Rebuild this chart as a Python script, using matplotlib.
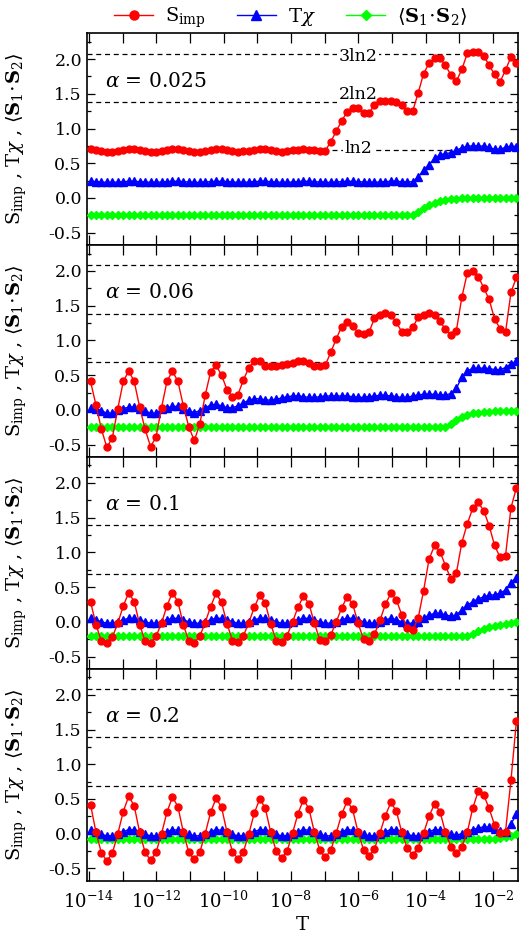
import numpy as np
import matplotlib
matplotlib.use('Agg')
import matplotlib.pyplot as plt
from matplotlib.ticker import FixedLocator, FuncFormatter, MultipleLocator, NullLocator

plt.rcParams['font.family'] = 'DejaVu Serif'
plt.rcParams['mathtext.fontset'] = 'dejavuserif'
plt.rcParams['axes.unicode_minus'] = False

# NRG temperature grid (uniform in log T)
T = np.logspace(-13.95, -1.30, 79)

alphas = ['0.025', '0.06', '0.1', '0.2']

# ---- alpha = 0.025 ----
s_imp_1 = [
    0.70, 0.69, 0.67, 0.66, 0.665, 0.68, 0.695, 0.70,
    0.70, 0.69, 0.67, 0.66, 0.665, 0.68, 0.695, 0.70,
    0.70, 0.69, 0.67, 0.66, 0.665, 0.68, 0.695, 0.70,
    0.70, 0.69, 0.675, 0.665, 0.67, 0.68, 0.695, 0.70,
    0.70, 0.69, 0.675, 0.665, 0.67, 0.685, 0.695, 0.70,
    0.695, 0.685, 0.675, 0.68,
    0.81, 0.96, 1.11, 1.24, 1.30, 1.30, 1.23, 1.22, 1.34, 1.39,
    1.40, 1.40, 1.38, 1.34, 1.25, 1.25, 1.51, 1.79, 1.94, 2.01,
    2.01, 1.91, 1.77, 1.68, 1.85, 2.08, 2.10, 2.10, 2.05, 1.91,
    1.78, 1.67, 1.84, 2.03, 1.95]
tchi_1 = [
    0.24, 0.235, 0.23, 0.225, 0.225, 0.23, 0.235, 0.24,
    0.24, 0.235, 0.23, 0.225, 0.225, 0.23, 0.235, 0.24,
    0.24, 0.235, 0.23, 0.225, 0.225, 0.23, 0.235, 0.24,
    0.24, 0.235, 0.23, 0.225, 0.225, 0.23, 0.235, 0.24,
    0.24, 0.235, 0.23, 0.225, 0.225, 0.23, 0.235, 0.24,
    0.24, 0.235, 0.23, 0.225, 0.225, 0.23, 0.235, 0.24,
    0.24, 0.235, 0.23, 0.225, 0.225, 0.23, 0.235, 0.24,
    0.24, 0.235, 0.23, 0.235,
    0.30, 0.40, 0.48, 0.57, 0.62, 0.64, 0.65, 0.69, 0.72, 0.745,
    0.75, 0.75, 0.745, 0.73, 0.70, 0.70, 0.73, 0.745, 0.74]
s1s2_1 = [
    -0.25, -0.25, -0.25, -0.25, -0.25, -0.25, -0.25, -0.25, -0.25, -0.25,
    -0.25, -0.25, -0.25, -0.25, -0.25, -0.25, -0.25, -0.25, -0.25, -0.25,
    -0.25, -0.25, -0.25, -0.25, -0.25, -0.25, -0.25, -0.25, -0.25, -0.25,
    -0.25, -0.25, -0.25, -0.25, -0.25, -0.25, -0.25, -0.25, -0.25, -0.25,
    -0.25, -0.25, -0.25, -0.25, -0.25, -0.25, -0.25, -0.25, -0.25, -0.25,
    -0.25, -0.25, -0.25, -0.25, -0.25, -0.25, -0.25, -0.25, -0.25, -0.25,
    -0.20, -0.145, -0.105, -0.07, -0.045, -0.025, -0.015, -0.01, -0.005,
    0.0, 0.0, 0.0, 0.0, 0.0, 0.0, 0.0, 0.0, 0.0, 0.0]

# ---- alpha = 0.06 ----
s_imp_2 = [
    0.41, 0.07, -0.28, -0.54, -0.40, 0.02, 0.41, 0.56,
    0.41, 0.04, -0.28, -0.53, -0.39, 0.03, 0.41, 0.56,
    0.41, 0.06, -0.245, -0.44, -0.21, 0.21, 0.55, 0.64,
    0.50, 0.29, 0.19, 0.22, 0.43, 0.61, 0.70, 0.71,
    0.635, 0.625, 0.635, 0.65, 0.66, 0.67, 0.71, 0.71,
    0.68, 0.635, 0.625, 0.645,
    0.83, 1.02, 1.20, 1.27, 1.21, 1.11, 1.09, 1.115, 1.32, 1.365,
    1.39, 1.365, 1.26, 1.125, 1.115, 1.19, 1.33, 1.365, 1.39, 1.37,
    1.275, 1.16, 1.08, 1.14, 1.62, 1.97, 2.00, 1.92, 1.76, 1.59,
    1.31, 1.17, 1.115, 1.69, 1.91]
tchi_2 = [
    0.03, 0.02, -0.01, -0.05, -0.05, 0.00, 0.02, 0.04,
    0.04, 0.02, -0.01, -0.05, -0.05, 0.01, 0.03, 0.05,
    0.05, 0.02, -0.01, -0.04, -0.01, 0.03, 0.07, 0.08,
    0.06, 0.03, 0.03, 0.06, 0.10, 0.14, 0.16, 0.16,
    0.145, 0.14, 0.155, 0.17, 0.19, 0.20, 0.20, 0.19,
    0.18, 0.18, 0.19, 0.20, 0.20, 0.20, 0.20, 0.20, 0.19, 0.18,
    0.18, 0.19, 0.20, 0.21, 0.21, 0.20, 0.19, 0.18, 0.18, 0.20,
    0.215, 0.225, 0.225, 0.225, 0.215, 0.215, 0.235, 0.31, 0.47, 0.56,
    0.60, 0.60, 0.60, 0.595, 0.58, 0.58, 0.61, 0.66, 0.70]
s1s2_2 = [
    -0.25, -0.25, -0.25, -0.25, -0.25, -0.25, -0.25, -0.25, -0.25, -0.25,
    -0.25, -0.25, -0.25, -0.25, -0.25, -0.25, -0.25, -0.25, -0.25, -0.25,
    -0.25, -0.25, -0.25, -0.25, -0.25, -0.25, -0.25, -0.25, -0.25, -0.25,
    -0.25, -0.25, -0.25, -0.25, -0.25, -0.25, -0.25, -0.25, -0.25, -0.25,
    -0.25, -0.25, -0.25, -0.25, -0.25, -0.25, -0.25, -0.25, -0.25, -0.25,
    -0.25, -0.25, -0.25, -0.25, -0.25, -0.25, -0.25, -0.25, -0.25, -0.25,
    -0.25, -0.25, -0.25, -0.25, -0.25, -0.25,
    -0.21, -0.15, -0.10, -0.07, -0.05, -0.04, -0.03, -0.025, -0.02,
    -0.015, -0.015, -0.015, -0.015]

# ---- alpha = 0.1 ----
s_imp_3 = [
    0.29, -0.04, -0.28, -0.30, -0.22, -0.02, 0.23, 0.42,
    0.29, -0.04, -0.28, -0.30, -0.21, -0.02, 0.23, 0.42,
    0.29, -0.04, -0.28, -0.30, -0.21, -0.01, 0.22, 0.41,
    0.28, -0.03, -0.27, -0.29, -0.20, -0.01, 0.21, 0.385,
    0.27, -0.03, -0.27, -0.29, -0.20, 0.00, 0.21, 0.37,
    0.26, -0.02, -0.26, -0.28, -0.19, 0.00, 0.20, 0.36,
    0.26, -0.02, -0.25, -0.27, -0.18, 0.02, 0.25, 0.41,
    0.32, 0.10, -0.09, -0.12, 0.05, 0.45, 0.90, 1.10, 1.01, 0.81,
    0.615, 0.70, 1.14, 1.41, 1.635, 1.72, 1.60, 1.385, 1.10, 0.93,
    0.95, 1.64, 1.93]
tchi_3 = [
    0.05, 0.03, 0.00, -0.02, -0.02, 0.00, 0.03, 0.05,
    0.05, 0.03, 0.00, -0.02, -0.02, 0.00, 0.03, 0.05,
    0.05, 0.03, 0.00, -0.02, -0.02, 0.00, 0.03, 0.05,
    0.05, 0.03, 0.00, -0.02, -0.02, 0.00, 0.03, 0.05,
    0.05, 0.03, 0.00, -0.02, -0.02, 0.00, 0.03, 0.05,
    0.05, 0.03, 0.00, -0.02, -0.02, 0.00, 0.03, 0.05,
    0.05, 0.03, 0.00, -0.02, -0.02, 0.00, 0.03, 0.05,
    0.03, 0.00, -0.02, -0.02, 0.00, 0.05, 0.10, 0.12, 0.12, 0.10,
    0.08, 0.10, 0.17, 0.24, 0.29, 0.33, 0.36, 0.38, 0.39, 0.41,
    0.46, 0.56, 0.635]
s1s2_3 = [
    -0.20, -0.20, -0.20, -0.20, -0.20, -0.20, -0.20, -0.20, -0.20, -0.20,
    -0.20, -0.20, -0.20, -0.20, -0.20, -0.20, -0.20, -0.20, -0.20, -0.20,
    -0.20, -0.20, -0.20, -0.20, -0.20, -0.20, -0.20, -0.20, -0.20, -0.20,
    -0.20, -0.20, -0.20, -0.20, -0.20, -0.20, -0.20, -0.20, -0.20, -0.20,
    -0.20, -0.20, -0.20, -0.20, -0.20, -0.20, -0.20, -0.20, -0.20, -0.20,
    -0.20, -0.20, -0.20, -0.20, -0.20, -0.20, -0.20, -0.20, -0.20, -0.20,
    -0.20, -0.20, -0.20, -0.20, -0.20, -0.20, -0.20, -0.20, -0.20, -0.20,
    -0.17, -0.135, -0.105, -0.08, -0.06, -0.04, -0.025, -0.01, 0.0]

# ---- alpha = 0.2 ----
s_imp_4 = [
    0.42, 0.02, -0.28, -0.39, -0.28, 0.00, 0.32, 0.54,
    0.40, 0.02, -0.27, -0.38, -0.27, 0.00, 0.31, 0.53,
    0.39, 0.02, -0.27, -0.37, -0.27, 0.00, 0.31, 0.51,
    0.38, 0.02, -0.26, -0.36, -0.26, 0.00, 0.30, 0.50,
    0.37, 0.02, -0.25, -0.35, -0.25, 0.01, 0.29, 0.49,
    0.36, 0.02, -0.24, -0.34, -0.24, 0.01, 0.28, 0.47,
    0.35, 0.02, -0.23, -0.32, -0.22, 0.01, 0.26, 0.45,
    0.33, 0.02, -0.21, -0.30, -0.21, 0.01, 0.25, 0.43,
    0.32, 0.02, -0.19, -0.28, -0.19, 0.02, 0.37, 0.61, 0.56, 0.365,
    0.125, 0.01, 0.03, 0.77, 1.62]
tchi_4 = [
    0.05, 0.02, -0.01, -0.03, -0.03, -0.01, 0.03, 0.06,
    0.05, 0.02, -0.01, -0.03, -0.03, -0.01, 0.03, 0.06,
    0.05, 0.02, -0.01, -0.03, -0.03, -0.01, 0.03, 0.06,
    0.05, 0.02, -0.01, -0.03, -0.03, -0.01, 0.03, 0.06,
    0.05, 0.02, -0.01, -0.03, -0.03, -0.01, 0.03, 0.06,
    0.05, 0.02, -0.01, -0.03, -0.03, -0.01, 0.03, 0.06,
    0.05, 0.02, -0.01, -0.03, -0.03, -0.01, 0.03, 0.06,
    0.05, 0.02, -0.01, -0.03, -0.03, -0.01, 0.03, 0.06,
    0.05, 0.03, 0.00, -0.02, 0.00, 0.03, 0.06, 0.08, 0.10, 0.09,
    0.07, 0.04, 0.03, 0.14, 0.28]
s1s2_4 = [
    -0.08, -0.08, -0.08, -0.08, -0.08, -0.08, -0.08, -0.08, -0.08, -0.08,
    -0.08, -0.08, -0.08, -0.08, -0.08, -0.08, -0.08, -0.08, -0.08, -0.08,
    -0.08, -0.08, -0.08, -0.08, -0.08, -0.08, -0.08, -0.08, -0.08, -0.08,
    -0.08, -0.08, -0.08, -0.08, -0.08, -0.08, -0.08, -0.08, -0.08, -0.08,
    -0.08, -0.08, -0.08, -0.08, -0.08, -0.08, -0.08, -0.08, -0.08, -0.08,
    -0.08, -0.08, -0.08, -0.08, -0.08, -0.08, -0.08, -0.08, -0.08, -0.08,
    -0.08, -0.08, -0.08, -0.08, -0.08, -0.08, -0.08, -0.08, -0.08, -0.08,
    -0.08, -0.08, -0.08, -0.08, -0.08,
    -0.06, -0.045, -0.03, -0.005]

s_imp_all = [s_imp_1, s_imp_2, s_imp_3, s_imp_4]
tchi_all = [tchi_1, tchi_2, tchi_3, tchi_4]
s1s2_all = [s1s2_1, s1s2_2, s1s2_3, s1s2_4]

ln2 = np.log(2)
ref_levels = [ln2, 2 * ln2, 3 * ln2]
ref_labels = ['ln2', '2ln2', '3ln2']

fig, axes = plt.subplots(4, 1, figsize=(5.23, 9.52), dpi=100, sharex=True)
fig.subplots_adjust(left=0.166, right=0.990, top=0.965, bottom=0.0746, hspace=0)

ylab = r'S$_{\rm imp}$ , T$\chi$ , $\langle\mathbf{S}_1\!\cdot\!\mathbf{S}_2\rangle$'

for k, ax in enumerate(axes):
    for lev in ref_levels:
        ax.axhline(lev, color='black', lw=0.9, ls=(0, (4, 3)), zorder=1)
    l3, = ax.plot(T, s1s2_all[k], '-D', color='#00ff00', ms=4, lw=1, zorder=3,
                  label=r'$\langle\mathbf{S}_1\!\cdot\!\mathbf{S}_2\rangle$')
    l2, = ax.plot(T, tchi_all[k], '-^', color='blue', ms=5.5, lw=1, zorder=4,
                  label=r'T$\chi$')
    l1, = ax.plot(T, s_imp_all[k], '-o', color='red', ms=5, lw=1, zorder=5,
                  label=r'S$_{\rm imp}$')

    ax.set_xscale('log')
    ax.set_xlim(10**-14.06, 10**-1.26)
    ax.set_ylim(-0.68, 2.37)
    ax.yaxis.set_major_locator(MultipleLocator(0.5))
    ax.yaxis.set_minor_locator(MultipleLocator(0.25))
    ax.yaxis.set_major_formatter(FuncFormatter(lambda v, p: f'{v:.1f}'))
    ax.xaxis.set_major_locator(FixedLocator([10.0**e for e in range(-14, -1)]))
    ax.xaxis.set_minor_locator(NullLocator())
    ax.xaxis.set_major_formatter(FuncFormatter(
        lambda v, p: r'$10^{%d}$' % round(np.log10(v)) if round(np.log10(v)) % 2 == 0 else ''))
    ax.tick_params(which='both', direction='in', top=True, right=True, width=0.9)
    ax.tick_params(axis='y', labelsize=12.5)
    ax.tick_params(axis='x', which='major', length=7, pad=7, labelsize=13)
    ax.tick_params(axis='y', which='major', length=6)
    ax.tick_params(axis='y', which='minor', length=3)
    for sp in ax.spines.values():
        sp.set_linewidth(1.2)

    ax.set_ylabel(ylab, fontsize=14)
    ax.yaxis.set_label_coords(-0.135, 0.5)
    ax.text(0.042, 0.775, r'$\alpha$ = ' + alphas[k], transform=ax.transAxes,
            fontsize=14.5, ha='left', va='center')

# level labels in the top panel
offsets = [0.02, 0.11, -0.04]
for lev, lab, off in zip(ref_levels, ref_labels, offsets):
    axes[0].text(10**-6.0, lev + off, lab, fontsize=12.5, ha='center', va='center',
                 bbox=dict(fc='white', ec='none', pad=1), zorder=2)

axes[-1].set_xlabel('T', fontsize=14, labelpad=3)

fig.legend([l1, l2, l3], [l1.get_label(), l2.get_label(), l3.get_label()],
           loc='upper center', bbox_to_anchor=(0.556, 1.012), ncol=3, frameon=False,
           fontsize=14, handlelength=2.0, columnspacing=1.6, handletextpad=0.6,
           markerscale=1.3)

fig.savefig('out.png', dpi=100)
